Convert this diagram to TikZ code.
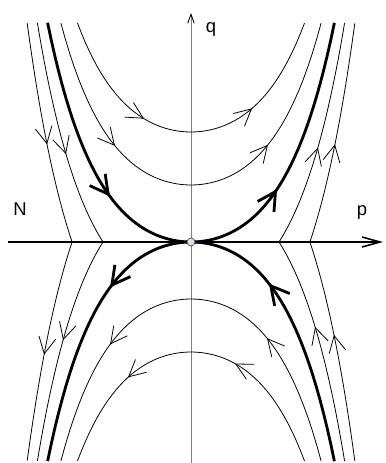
\documentclass[tikz,border=0pt]{standalone}
\usepackage{fontspec}
\setmainfont{Liberation Sans}
\usetikzlibrary{arrows.meta, decorations.markings}

\definecolor{originfill}{RGB}{205,228,242}

\tikzset{
  orbit/.style={line width=0.45pt},
  separatrix/.style={line width=1.6pt},
  flowtip/.style={postaction={decorate, decoration={markings,
      mark=at position #1 with {\arrow{Straight Barb[length=3.3mm, width=3.4mm]}}}}},
  septip/.style={postaction={decorate, decoration={markings,
      mark=at position #1 with {\arrow{Straight Barb[length=3.6mm, width=3.9mm]}}}}},
}

\begin{document}
\begin{tikzpicture}[x=2cm, y=2cm, font=\fontsize{10.5}{12}\selectfont,
    declare function={hc(\t)=0.28*(cosh(2*\t)-1);}]
  \useasboundingbox (-1.91,-2.21) rectangle (1.94,2.42);

  % Axes
  \draw[gray, line width=0.5pt, -{Straight Barb[black, length=1.8mm, width=1.3mm]}]
    (0,-2.21) -- (0,2.29);
  \draw[line width=0.9pt, -{Straight Barb[length=3.6mm, width=2mm]}]
    (-1.83,0) -- (1.92,0);

  % Separatrices through the origin
  \draw[separatrix, septip=0.329, septip=0.687]
    plot[domain=-1.434:1.434, samples=80] (\x, {hc(\x)});
  \draw[separatrix, septip=0.338, septip=0.671]
    plot[domain=-1.434:1.434, samples=80] (-\x, {-hc(\x)});

  % Orbits between the separatrices
  \draw[orbit, flowtip=0.353, flowtip=0.699]
    plot[domain=-1.135:1.135, samples=60] (\x, {1.10+hc(\x)});
  \draw[orbit, flowtip=0.302, flowtip=0.701]
    plot[domain=-1.301:1.301, samples=60] (\x, {0.57+hc(\x)});
  \draw[orbit, flowtip=0.302, flowtip=0.716]
    plot[domain=-1.301:1.301, samples=60] (-\x, {-0.57-hc(\x)});
  \draw[orbit, flowtip=0.363, flowtip=0.707]
    plot[domain=-1.135:1.135, samples=60] (-\x, {-1.10-hc(\x)});

  % Outer orbits, broken on the p axis
  \draw[orbit, flowtip=0.584]
    plot[domain=-1.536:-0.880, samples=40] (\x, {hc(\x)-0.558});
  \draw[orbit, flowtip=0.446]
    plot[domain=0.880:1.536, samples=40] (\x, {hc(\x)-0.558});
  \draw[orbit, flowtip=0.463]
    plot[domain=0.880:1.536, samples=40] (-\x, {0.558-hc(\x)});
  \draw[orbit, flowtip=0.598]
    plot[domain=-1.536:-0.880, samples=40] (-\x, {0.558-hc(\x)});

  \draw[orbit, flowtip=0.549]
    plot[domain=-1.638:-1.189, samples=40] (\x, {hc(\x)-1.243});
  \draw[orbit, flowtip=0.452]
    plot[domain=1.189:1.638, samples=40] (\x, {hc(\x)-1.243});
  \draw[orbit, flowtip=0.520]
    plot[domain=1.189:1.638, samples=40] (-\x, {1.243-hc(\x)});
  \draw[orbit, flowtip=0.571]
    plot[domain=-1.638:-1.189, samples=40] (-\x, {1.243-hc(\x)});

  % Equilibrium
  \node[circle, draw=black!70, fill=originfill, line width=0.4pt,
        inner sep=0pt, minimum size=1.6mm] (O) at (0,0) {};

  % Labels
  \node[anchor=base] (qlabel) at (0.20,2.10) {q};
  \node[anchor=base] (plabel) at (1.71,0.27) {p};
  \node[anchor=base] (Nlabel) at (-1.71,0.27) {N};
\end{tikzpicture}
\end{document}
